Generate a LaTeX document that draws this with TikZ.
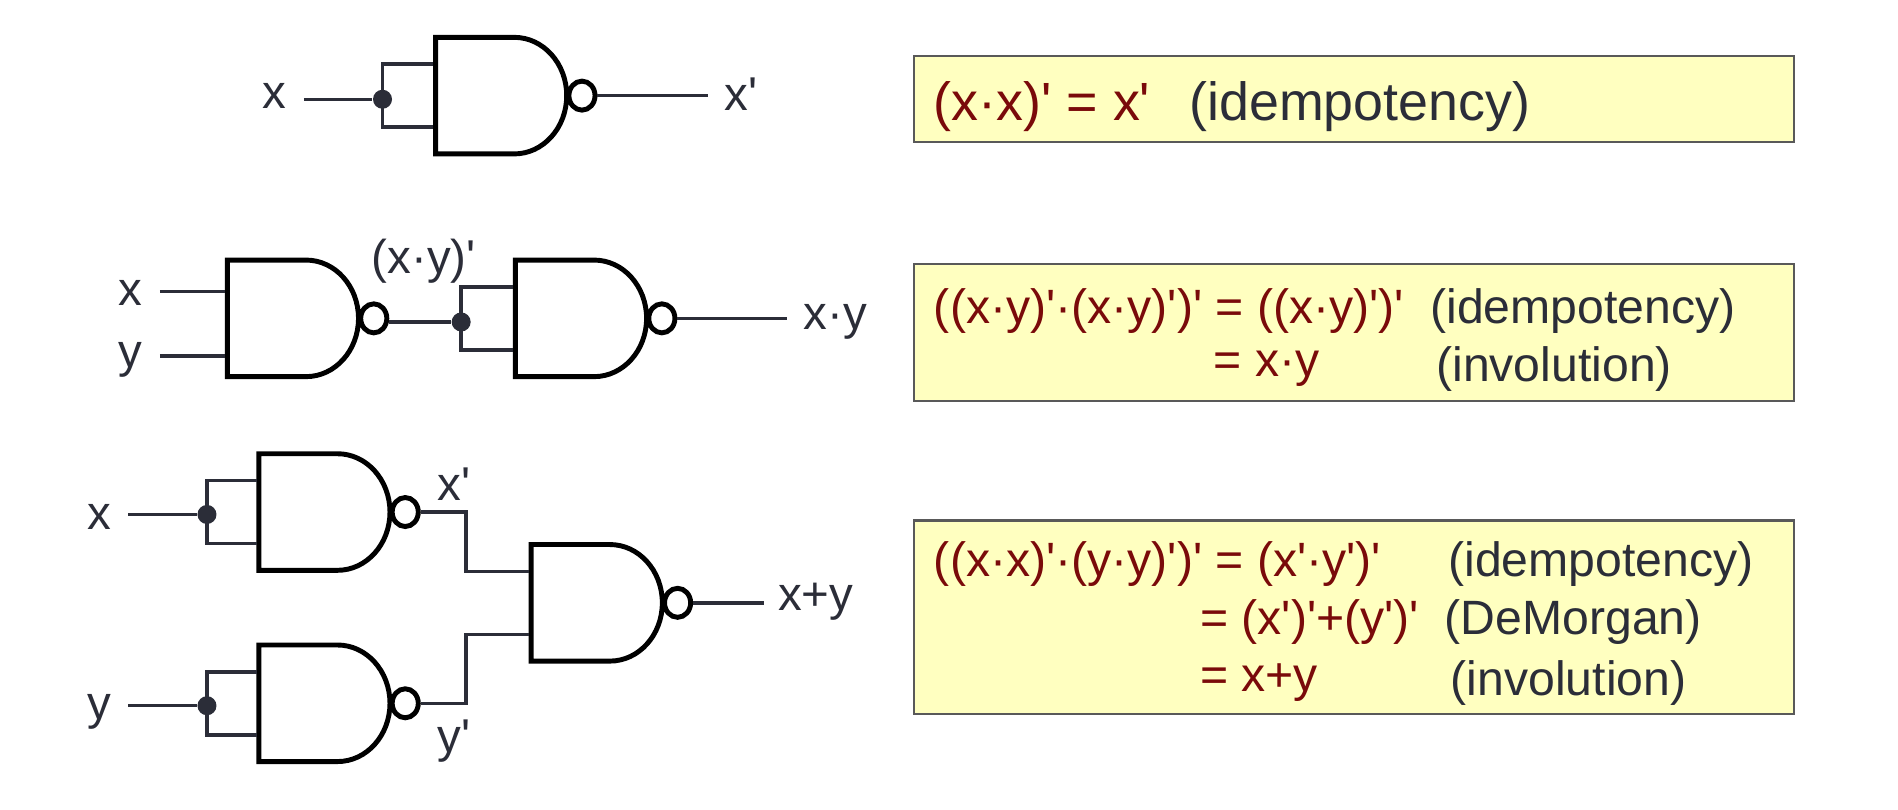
\documentclass[tikz,border=0pt]{standalone}
\usepackage{fontspec}
\usepackage{xcolor}
\setmainfont[Ligatures=TeXOff]{Liberation Sans}
\usetikzlibrary{shapes.gates.logic.US}
\definecolor{boxfill}{HTML}{FFFFC0}
\definecolor{eqred}{HTML}{7A0A0A}
\definecolor{inkgray}{HTML}{2B2D38}

% input stubs sit further apart than the library anchors
\def\inoff{0.315cm}

\tikzset{
	nandgate/.style={nand gate US, draw=black, line width=1.4pt, logic gate inputs=nn,
		logic gate input sep=0.361cm, logic gate inverted radius=0.145cm,
		inner sep=0pt, xscale=0.9, transform shape, anchor=west},
	wire/.style={draw=inkgray, line width=1pt},
	tapdot/.style={circle, fill=inkgray, inner sep=0pt, minimum size=0.19cm},
	lab/.style={text=inkgray, font=\fontsize{13.5}{16}\selectfont},
	eqbox/.style={draw=black!65, fill=boxfill, line width=0.6pt, anchor=north west, inner sep=0pt, outer sep=0pt},
	eqa/.style={anchor=west, text=eqred, inner sep=0pt, font=\fontsize{15.3}{17}\selectfont},
	noteb/.style={anchor=west, text=inkgray, inner sep=0pt, font=\fontsize{15.3}{17}\selectfont},
	eqb/.style={anchor=west, text=eqred, inner sep=0pt, font=\fontsize{13.7}{16}\selectfont},
	notec/.style={anchor=west, text=inkgray, inner sep=0pt, font=\fontsize{13.7}{16}\selectfont},
}

\begin{document}
\begin{tikzpicture}[x=0.012105cm, y=-0.012105cm]
	\useasboundingbox (0,0) rectangle (1568,669.1);

	% top row
	\node [nandgate] at (358,79) (gateone) {};
	\node [tapdot] at (316,82) (dotone) {};
	\coordinate (inone) at (251,82);
	\coordinate (outone) at (585,79);
	\node [lab] at (227,79) (labx) {x};
	\node [lab] at (612,78) (labxn) {x'};
	\draw [wire] (inone) -- (dotone);
	\draw [wire] ([yshift=\inoff]gateone.west) -| (dotone.center) |- ([yshift=-\inoff]gateone.west);
	\draw [wire] (gateone.output) -- (outone);

	% middle row
	\node [nandgate] at (186,263) (gatetwo) {};
	\node [nandgate] at (424,263) (gatethree) {};
	\node [tapdot] at (381,266) (dottwo) {};
	\coordinate (inx) at (132,241);
	\coordinate (iny) at (132,294);
	\coordinate (outtwo) at (650,263);
	\node [lab] at (108,242) (labxa) {x};
	\node [lab] at (108,297) (labya) {y};
	\node [lab] at (350,216) (labnand) {(x·y)'};
	\node [lab] at (690,266) (labprod) {x·y};
	\draw [wire] (inx) -- (inx -| gatetwo.west);
	\draw [wire] (iny) -- (iny -| gatetwo.west);
	\draw [wire] (gatetwo.output |- dottwo) -- (dottwo);
	\draw [wire] ([yshift=\inoff]gatethree.west) -| (dottwo.center) |- ([yshift=-\inoff]gatethree.west);
	\draw [wire] (gatethree.output) -- (outtwo);

	% bottom row
	\node [nandgate] at (212,423) (gatefour) {};
	\node [nandgate] at (212,581) (gatefive) {};
	\node [nandgate] at (437,498) (gatesix) {};
	\node [tapdot] at (171,425) (dotthree) {};
	\node [tapdot] at (171,583) (dotfour) {};
	\coordinate (inxb) at (106,425);
	\coordinate (inyb) at (106,583);
	\coordinate (outsix) at (631,498);
	\coordinate (bendx) at (385,423);
	\coordinate (bendy) at (385,581);
	\node [lab] at (82,427) (labxb) {x};
	\node [lab] at (82,588) (labyb) {y};
	\node [lab] at (375,400) (labxc) {x'};
	\node [lab] at (375,612) (labyc) {y'};
	\node [lab] at (674,497) (labsum) {x+y};
	\draw [wire] (inxb) -- (dotthree);
	\draw [wire] (inyb) -- (dotfour);
	\draw [wire] ([yshift=\inoff]gatefour.west) -| (dotthree.center) |- ([yshift=-\inoff]gatefour.west);
	\draw [wire] ([yshift=\inoff]gatefive.west) -| (dotfour.center) |- ([yshift=-\inoff]gatefive.west);
	\draw [wire] (gatefour.output) -- (bendx) |- ([yshift=\inoff]gatesix.west);
	\draw [wire] (gatefive.output) -- (bendy) |- ([yshift=-\inoff]gatesix.west);
	\draw [wire] (gatesix.output) -- (outsix);

	% equation boxes
	\node [eqbox, minimum width=8.80cm, minimum height=0.859cm] at (755,46) (boxone) {};
	\node [eqa] at (771,88) (eqone) {(x·x)' = x'};
	\node [noteb] at (982,88) (noteone) {(idempotency)};

	\node [eqbox, minimum width=8.80cm, minimum height=1.368cm] at (755,218) (boxtwo) {};
	\node [eqb] at (771,257) (eqtwoa) {((x·y)'·(x·y)')' = ((x·y)')'};
	\node [notec] at (1181,257) (notetwoa) {(idempotency)};
	\node [eqb] at (1002,305) (eqtwob) {= x·y};
	\node [notec] at (1186,305) (notetwob) {(involution)};

	\node [eqbox, minimum width=8.80cm, minimum height=1.937cm] at (755,430) (boxthree) {};
	\node [eqb] at (771,466) (eqthreea) {((x·x)'·(y·y)')' = (x'·y')'};
	\node [notec] at (1196,466) (notethreea) {(idempotency)};
	\node [eqb] at (991,514) (eqthreeb) {= (x')'+(y')'};
	\node [notec] at (1193,514) (notethreeb) {(DeMorgan)};
	\node [eqb] at (991,564) (eqthreec) {= x+y};
	\node [notec] at (1198,564) (notethreec) {(involution)};
\end{tikzpicture}
\end{document}
